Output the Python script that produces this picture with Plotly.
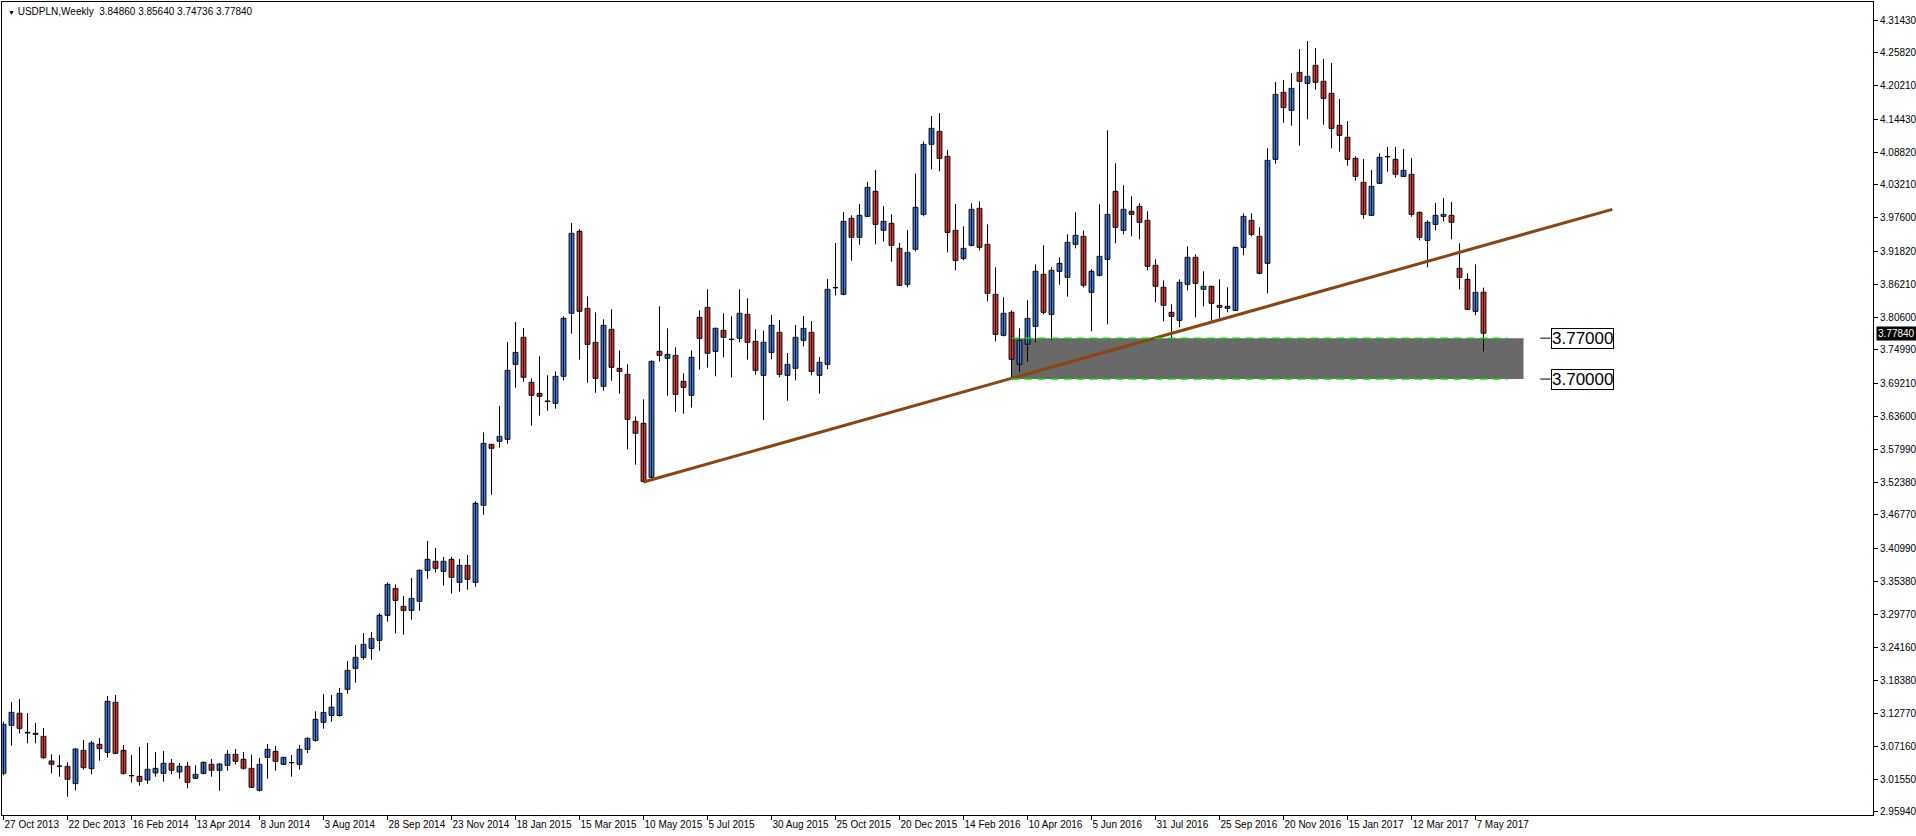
import plotly.graph_objects as go
import pandas as pd

# ---------------- data (USDPLN weekly) ----------------
opens = [3.0255, 3.1076, 3.1282, 3.0956, 3.0939, 3.0888, 3.0466, 3.0380, 3.0375, 3.0078,
         3.0648, 3.0335, 3.0751, 3.0614, 3.1470, 3.0648, 3.0218, 3.0204, 3.0141, 3.0261,
         3.0255, 3.0426, 3.0278, 3.0375, 3.0170, 3.0255, 3.0409, 3.0307, 3.0392, 3.0580,
         3.0495, 3.0341, 2.9964, 3.0529, 3.0631, 3.0409, 3.0440, 3.0409, 3.0666, 3.0819,
         3.1127, 3.1244, 3.1244, 3.1692, 3.2051, 3.2239, 3.2393, 3.2530, 3.2958, 3.3420,
         3.3112, 3.3043, 3.3197, 3.3728, 3.3882, 3.3711, 3.3916, 3.3522, 3.3813, 3.3522,
         3.4840, 3.5883, 3.5935, 3.5969, 3.7252, 3.7714, 3.6944, 3.6756, 3.6625, 3.6585,
         3.7047, 3.8125, 3.9527, 3.8210, 3.7628, 3.6876, 3.7851, 3.7184, 3.7081, 3.6277,
         3.6243, 3.5319, 3.7474, 3.7355, 3.7406, 3.6961, 3.6722, 3.8056, 3.8227, 3.7474,
         3.7834, 3.7683, 3.7697, 3.8107, 3.7645, 3.7064, 3.7457, 3.7800, 3.7064, 3.7184,
         3.7663, 3.7800, 3.7064, 3.7252, 3.8567, 3.8450, 3.9750, 3.9425, 3.9784, 4.0212,
         3.9545, 3.9664, 3.9237, 3.8621, 3.9220, 3.9818, 4.1016, 4.1238, 4.0811, 3.9545,
         3.9065, 3.9288, 3.9921, 3.9305, 3.8450, 3.7748, 3.8142, 3.7252, 3.7594, 3.7902,
         3.8792, 3.8107, 3.8843, 3.8740, 3.9305, 3.9442, 3.8484, 3.8775, 3.9048, 4.0212,
         3.9544, 3.9870, 3.9955, 3.9716, 3.8946, 3.8570, 3.8142, 3.8005, 3.8621, 3.9083,
         3.8535, 3.8587, 3.8261, 3.8210, 3.8176, 3.9254, 3.9716, 3.9442, 3.8980, 4.0759,
         4.1905, 4.1597, 4.2248, 4.2059, 4.2367, 4.2094, 4.1888, 4.1341, 4.1136, 4.0776,
         4.0366, 3.9801, 4.0349, 4.0808, 4.0759, 4.0468, 4.0503, 3.9852, 3.9373, 3.9647,
         3.9784, 3.9801, 3.8894, 3.8706, 3.8159, 3.8486]
highs = [3.1139, 3.1475, 3.1527, 3.1287, 3.1116, 3.1031, 3.0580, 3.0569, 3.0443, 3.0683,
         3.0825, 3.0808, 3.0860, 3.1578, 3.1595, 3.0740, 3.0569, 3.0706, 3.0774, 3.0620,
         3.0637, 3.0500, 3.0432, 3.0449, 3.0392, 3.0455, 3.0500, 3.0426, 3.0654, 3.0671,
         3.0620, 3.0574, 3.0517, 3.0757, 3.0723, 3.0535, 3.0569, 3.0740, 3.0876, 3.1316,
         3.1612, 3.1595, 3.1715, 3.2177, 3.2450, 3.2656, 3.2673, 3.2992, 3.3522, 3.3488,
         3.3289, 3.3597, 3.3745, 3.4230, 3.4110, 3.3956, 3.3956, 3.3922, 3.3990, 3.4908,
         3.6089, 3.5890, 3.6539, 3.7634, 3.7976, 3.7874, 3.7013, 3.7389, 3.7064, 3.7132,
         3.8073, 3.9670, 3.9562, 3.8415, 3.8142, 3.8022, 3.8193, 3.7491, 3.7252, 3.6362,
         3.6653, 3.7321, 3.8244, 3.7868, 3.7543, 3.7098, 3.7491, 3.8176, 3.8535, 3.7880,
         3.8125, 3.8073, 3.8535, 3.8381, 3.7851, 3.7828, 3.8096, 3.8011, 3.7446, 3.7925,
         3.8079, 3.7994, 3.7378, 3.8712, 3.9328, 3.9858, 3.9801, 3.9995, 4.0371, 4.0577,
         3.9961, 3.9818, 3.9328, 3.9550, 4.0514, 4.1067, 4.1500, 4.1552, 4.0919, 3.9995,
         3.9613, 4.0006, 4.0041, 3.9647, 3.8912, 3.8398, 3.8176, 3.7868, 3.8347, 3.8963,
         3.9288, 3.8912, 3.9083, 3.9476, 3.9852, 3.9544, 3.8877, 3.9989, 4.1255, 4.0691,
         4.0314, 4.0126, 4.0006, 3.9870, 3.9048, 3.8689, 3.8279, 3.8706, 3.9271, 3.9134,
         3.8843, 3.8595, 3.8706, 3.8570, 3.9260, 3.9835, 3.9835, 3.9596, 4.0947, 4.2082,
         4.2116, 4.2236, 4.2647, 4.2784, 4.2664, 4.2476, 4.2407, 4.1791, 4.1415, 4.0810,
         4.0765, 4.0577, 4.0862, 4.0970, 4.0970, 4.0936, 4.0782, 3.9869, 3.9716, 4.0012,
         4.0098, 4.0029, 3.9322, 3.8809, 3.8963, 3.8564]
lows = [3.0221, 3.0728, 3.0939, 3.0768, 3.0768, 3.0500, 3.0255, 3.0198, 2.9856, 2.9964,
        3.0318, 3.0238, 3.0472, 3.0523, 3.0590, 3.0232, 3.0096, 3.0044, 3.0078, 3.0198,
        3.0113, 3.0238, 3.0164, 2.9999, 3.0158, 3.0238, 3.0198, 2.9959, 3.0301, 3.0409,
        3.0318, 3.0010, 2.9941, 3.0164, 3.0301, 3.0400, 3.0198, 3.0318, 3.0600, 3.0797,
        3.1019, 3.1140, 3.1224, 3.1618, 3.1806, 3.2199, 3.2199, 3.2353, 3.2850, 3.2650,
        3.2628, 3.2884, 3.3038, 3.3585, 3.3688, 3.3466, 3.3329, 3.3363, 3.3397, 3.3448,
        3.4680, 3.5022, 3.5826, 3.5895, 3.6853, 3.6955, 3.6203, 3.6374, 3.6459, 3.6494,
        3.6973, 3.7777, 3.7332, 3.6938, 3.6767, 3.6801, 3.6973, 3.6750, 3.5798, 3.5536,
        3.5233, 3.5302, 3.7298, 3.6716, 3.6442, 3.6408, 3.6511, 3.7161, 3.7195, 3.7047,
        3.7372, 3.7030, 3.7628, 3.7332, 3.7075, 3.6300, 3.7338, 3.7030, 3.6630, 3.6978,
        3.7560, 3.7064, 3.6750, 3.7167, 3.8433, 3.8433, 3.9026, 3.9299, 3.9775, 3.9305,
        3.9351, 3.9008, 3.8590, 3.8570, 3.9185, 3.9784, 4.0588, 4.0554, 3.9168, 3.8860,
        3.9031, 3.9271, 3.9203, 3.8330, 3.7646, 3.7731, 3.7012, 3.7115, 3.7298, 3.7628,
        3.8107, 3.7663, 3.8615, 3.8410, 3.9237, 3.8570, 3.7817, 3.8757, 3.7936, 3.9322,
        3.9476, 3.9442, 3.9391, 3.8860, 3.8313, 3.7988, 3.7680, 3.7885, 3.8518, 3.8056,
        3.8244, 3.7971, 3.8039, 3.8142, 3.8170, 3.9117, 3.9442, 3.8792, 3.8467, 4.0685,
        4.1386, 4.1335, 4.0993, 4.1443, 4.1951, 4.1352, 4.0947, 4.0890, 4.0650, 4.0394,
        3.9744, 3.9795, 4.0340, 4.0548, 4.0446, 4.0460, 3.9778, 3.9373, 3.8912, 3.9544,
        3.9699, 3.9390, 3.8535, 3.8193, 3.8090, 3.74736]
closes = [3.1093, 3.1299, 3.1025, 3.0945, 3.0922, 3.0523, 3.0409, 3.0375, 3.0153, 3.0671,
          3.0352, 3.0774, 3.0677, 3.1487, 3.0597, 3.0255, 3.0212, 3.0118, 3.0324, 3.0341,
          3.0426, 3.0307, 3.0375, 3.0101, 3.0238, 3.0443, 3.0307, 3.0415, 3.0580, 3.0460,
          3.0341, 3.0016, 3.0409, 3.0666, 3.0460, 3.0529, 3.0435, 3.0666, 3.0853, 3.1179,
          3.1298, 3.1387, 3.1623, 3.2017, 3.2239, 3.2462, 3.2564, 3.2958, 3.3488, 3.3214,
          3.3043, 3.3249, 3.3728, 3.3916, 3.3762, 3.3882, 3.3608, 3.3813, 3.3574, 3.4874,
          3.5900, 3.5815, 3.6020, 3.7149, 3.7457, 3.7030, 3.6722, 3.6705, 3.6615, 3.7047,
          3.8039, 3.9493, 3.8159, 3.7594, 3.7013, 3.7919, 3.7201, 3.7132, 3.6311, 3.6072,
          3.5250, 3.7303, 3.7406, 3.7423, 3.6739, 3.6858, 3.7372, 3.7697, 3.7440, 3.7868,
          3.7714, 3.7677, 3.8125, 3.7628, 3.7149, 3.7629, 3.7920, 3.7081, 3.7252, 3.7714,
          3.7868, 3.7132, 3.7286, 3.8535, 3.8561, 3.9698, 3.9425, 3.9801, 4.0280, 3.9647,
          3.9698, 3.9288, 3.8604, 3.9168, 3.9938, 4.1016, 4.1290, 4.0776, 3.9510, 3.9031,
          3.9237, 3.9904, 3.9254, 3.8467, 3.7765, 3.8125, 3.7338, 3.7663, 3.8039, 3.8843,
          3.8142, 3.8860, 3.8980, 3.9339, 3.9459, 3.8604, 3.8843, 3.9100, 3.9818, 3.9596,
          3.9904, 3.9818, 3.9681, 3.8929, 3.8587, 3.8261, 3.8073, 3.8655, 3.9083, 3.8638,
          3.8587, 3.8296, 3.8227, 3.8244, 3.9254, 3.9784, 3.9476, 3.8809, 4.0742, 4.1871,
          4.1643, 4.1974, 4.2094, 4.2179, 4.2077, 4.1803, 4.1289, 4.1170, 4.0759, 4.0468,
          3.9818, 4.0297, 4.0793, 4.0802, 4.0503, 4.0571, 3.9818, 3.9425, 3.9682, 3.9801,
          3.9818, 3.9682, 3.8740, 3.8193, 3.8484, 3.7784]

first_week = "2013-10-27"
weeks = pd.date_range(first_week, periods=len(opens), freq="7D")
idx = list(range(len(opens)))

date_label_idx = list(range(0, len(opens), 8))
date_labels = [f"{weeks[i].day} {weeks[i].strftime('%b %Y')}" for i in date_label_idx]

price_ticks = [4.31430, 4.25820, 4.20210, 4.14430, 4.08820, 4.03210, 3.97600, 3.91820,
               3.86210, 3.80600, 3.74990, 3.69210, 3.63600, 3.57990, 3.52380, 3.46770,
               3.40990, 3.35380, 3.29770, 3.24160, 3.18380, 3.12770, 3.07160, 3.01550,
               2.95940]

# drawn objects
trend_x = [80, 201.1]
trend_y = [3.5240, 3.9904]
zone_levels = [3.77, 3.70]
zone_x = [126, 190]
zone_line_x = [126, 188]
label_x = 193.4
lead_x = [192.1, 193.4]

title_text = "USDPLN,Weekly\u00a0\u00a03.84860 3.85640 3.74736 3.77840"
last_price = closes[-1]

FONT = "Liberation Sans"
BLUE = "#2E80EC"
RED = "#EC2E2E"

fig = go.Figure()

# wicks
wx, wy = [], []
for i, h, l in zip(idx, highs, lows):
    wx += [i, i, None]
    wy += [l, h, None]
fig.add_trace(go.Scatter(x=wx, y=wy, mode="lines",
                         line=dict(color="black", width=1), hoverinfo="skip",
                         showlegend=False))

# bodies
def bodies(up):
    xs, base, hgt = [], [], []
    for i, o, c in zip(idx, opens, closes):
        if (c >= o) == up:
            xs.append(i)
            base.append(min(o, c))
            hgt.append(max(abs(c - o), 0.0003))
    return xs, base, hgt

for up, col in [(True, BLUE), (False, RED)]:
    xs, base, hgt = bodies(up)
    fig.add_trace(go.Bar(x=xs, y=hgt, base=base, width=0.6,
                         marker=dict(color=col, line=dict(color="black", width=1)),
                         showlegend=False, hoverinfo="skip"))

# trend line
fig.add_trace(go.Scatter(x=trend_x, y=trend_y, mode="lines",
                         line=dict(color="#8B4513", width=3),
                         showlegend=False, hoverinfo="skip"))

shapes = [dict(type="rect", xref="x", yref="y", x0=zone_x[0], x1=zone_x[1],
               y0=min(zone_levels), y1=max(zone_levels),
               fillcolor="#696969", line=dict(width=0), layer="below")]
for lv in zone_levels:
    shapes.append(dict(type="line", xref="x", yref="y", x0=zone_line_x[0], x1=zone_line_x[1],
                       y0=lv, y1=lv, line=dict(color="#00E000", width=1.5, dash="8px,5px"),
                       layer="above"))
    shapes.append(dict(type="line", xref="x", yref="y", x0=lead_x[0], x1=lead_x[1],
                       y0=lv, y1=lv, line=dict(color="black", width=1)))

annotations = []
for lv in zone_levels:
    annotations.append(dict(x=label_x, y=lv, xref="x", yref="y", xanchor="left",
                            yanchor="middle", showarrow=False, text=f"{lv:.5f}",
                            font=dict(family=FONT, size=17, color="black"),
                            bgcolor="white", bordercolor="black", borderwidth=1,
                            borderpad=0))
annotations.append(dict(x=0, y=1, xref="paper", yref="paper", xanchor="left",
                        yanchor="top", xshift=4, yshift=-2, showarrow=False,
                        text="<span style='font-size:7px'>\u25BC</span> " + title_text,
                        font=dict(family=FONT, size=10, color="black")))
annotations.append(dict(x=1, y=last_price, xref="paper", yref="y", xanchor="left",
                        yanchor="middle", xshift=3, showarrow=False,
                        text=f"{last_price:.5f}", bgcolor="black",
                        font=dict(family=FONT, size=10, color="white"), borderpad=1))

fig.update_layout(
    width=1916, height=836,
    margin=dict(l=2, r=43, t=2, b=21, autoexpand=False),
    paper_bgcolor="white", plot_bgcolor="white",
    barmode="overlay", showlegend=False,
    shapes=shapes, annotations=annotations,
    font=dict(family=FONT, size=10, color="black"),
)
fig.update_xaxes(range=[-0.1875, 233.6875], tickmode="array", tickvals=date_label_idx,
                 ticktext=date_labels, ticklabelposition="outside right",
                 ticks="outside", ticklen=4, tickcolor="black", tickangle=0,
                 showline=True, linecolor="black", linewidth=1, mirror=True,
                 showgrid=False, zeroline=False, automargin=False,
                 tickfont=dict(family=FONT, size=10, color="black"))
fig.update_yaxes(range=[2.9542, 4.3451], side="right", tickmode="array",
                 tickvals=price_ticks, ticktext=[f"{v:.5f}" for v in price_ticks],
                 ticks="outside", ticklen=4, tickcolor="black",
                 showline=True, linecolor="black", linewidth=1, mirror=True,
                 showgrid=False, zeroline=False, automargin=False,
                 tickfont=dict(family=FONT, size=10, color="black"))

fig.write_html("out.html", config={"displayModeBar": False},
               post_script="document.body.style.margin='0';"
                           "document.body.style.overflow='hidden';")
